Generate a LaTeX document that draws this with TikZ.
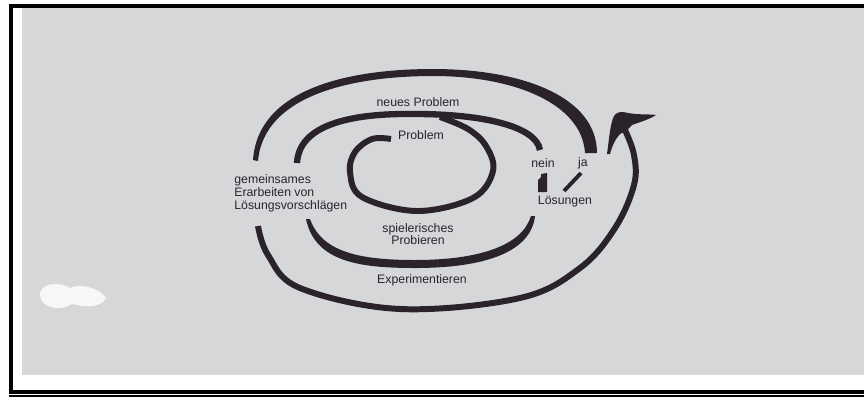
\documentclass[tikz,border=0pt]{standalone}
\usepackage{fontspec}
\setmainfont{Liberation Sans}
\usetikzlibrary{positioning}
\definecolor{scangray}{RGB}{214,215,217}
\definecolor{ink}{RGB}{42,36,42}
\tikzset{
  brush/.style={draw=ink,line width=#1},
  lbl/.style={text=ink,font=\fontsize{7}{7.4}\selectfont,inner sep=0pt},
}

\begin{document}
\begin{tikzpicture}[x=0.02cm,y=-0.02cm]
  \useasboundingbox (0,0) rectangle (864,397);

  % Scanned page and frame
  \fill[scangray] (22,8) rectangle (864,375);
  \fill[black] (9,4) rectangle (864,8);
  \fill[black] (9,4) rectangle (13,393);
  \fill[black] (9,390) rectangle (864,393.5);
  \draw[black,line width=0.6pt] (9,396) -- (864,396);
  \fill[white,opacity=0.8] (40,296) .. controls (38,283) and (60,281) .. (70,288) .. controls (80,283) and (100,288) .. (106,298) .. controls (100,310) and (80,306) .. (72,304) .. controls (60,312) and (42,308) .. (40,296) -- cycle;

  % Outer arc, top (neues Problem)
  \coordinate (oa) at (256,160);
  \coordinate (ob) at (591,153);
  \fill[ink] (253,160) .. controls (258,88) and (350,69) .. (433,69) .. controls (525,69) and (597,98) .. (597,153) -- (585,153) .. controls (582,104) and (515,76) .. (433,76) .. controls (355,76) and (264,94) .. (258,161) -- cycle;

  % Middle arc, top (Problem)
  \coordinate (ma) at (297,163);
  \coordinate (mb) at (540,150);
  \draw[brush=3.6pt] (ma) .. controls (299,125) and (350,113) .. (415,114) .. controls (482,114) and (536,126) .. (mb);

  % Inner loop
  \draw[brush=3.4pt] plot[smooth,tension=0.6] coordinates {(391,139) (372,139) (355,152) (350,172) (362,197) (417,211) (473,198) (493,171) (486,146) (468,129) (440,117)};

  % Middle arc, bottom (spielerisches Probieren)
  \fill[ink] (306,219) .. controls (315,262) and (360,268) .. (415,268) .. controls (485,268) and (531,252) .. (535,216) -- (531,216) .. controls (522,246) and (478,260) .. (415,260) .. controls (362,260) and (322,253) .. (310,219) -- cycle;

  % Outer arc, bottom (Experimentieren) with arrow
  \draw[brush=3.4pt] plot[smooth,tension=0.6] coordinates {(258,226) (268,255) (300,288) (400,309) (520,298) (580,268) (615,228) (634,185) (634,155) (625,130)};
  \fill[ink] (607,154) .. controls (609,140) and (610,124) .. (614,116) .. controls (616,112) and (622,111) .. (628,113) .. controls (640,115) and (650,114) .. (656,115) .. controls (648,120) and (640,122) .. (632,125) -- (626,131) -- (620,134) .. controls (616,138) and (612,146) .. (610,154) -- cycle;

  % nein / ja marks
  \fill[ink] (538,192) -- (538,180) -- (541,177) -- (541,174) -- (547,173) -- (547,192) -- cycle;
  \draw[brush=2.2pt] (564,191) -- (581,173);

  % Labels
  \node[lbl] (neu) at (418,102) {neues Problem};
  \node[lbl] (prob) at (421,135) {Problem};
  \node[lbl] (nein) at (543,163) {nein};
  \node[lbl] (ja) at (583,163) {ja};
  \node[lbl] (loes) at (565,202) {Lösungen};
  \node[lbl,align=left,anchor=west] (gem) at (234,193) {gemeinsames\\Erarbeiten von\\Lösungsvorschlägen};
  \node[lbl,align=center,font=\fontsize{7}{6.9}\selectfont] (spiel) at (418,234) {spielerisches\\Probieren};
  \node[lbl] (exper) at (422,280) {Experimentieren};

\end{tikzpicture}
\end{document}
